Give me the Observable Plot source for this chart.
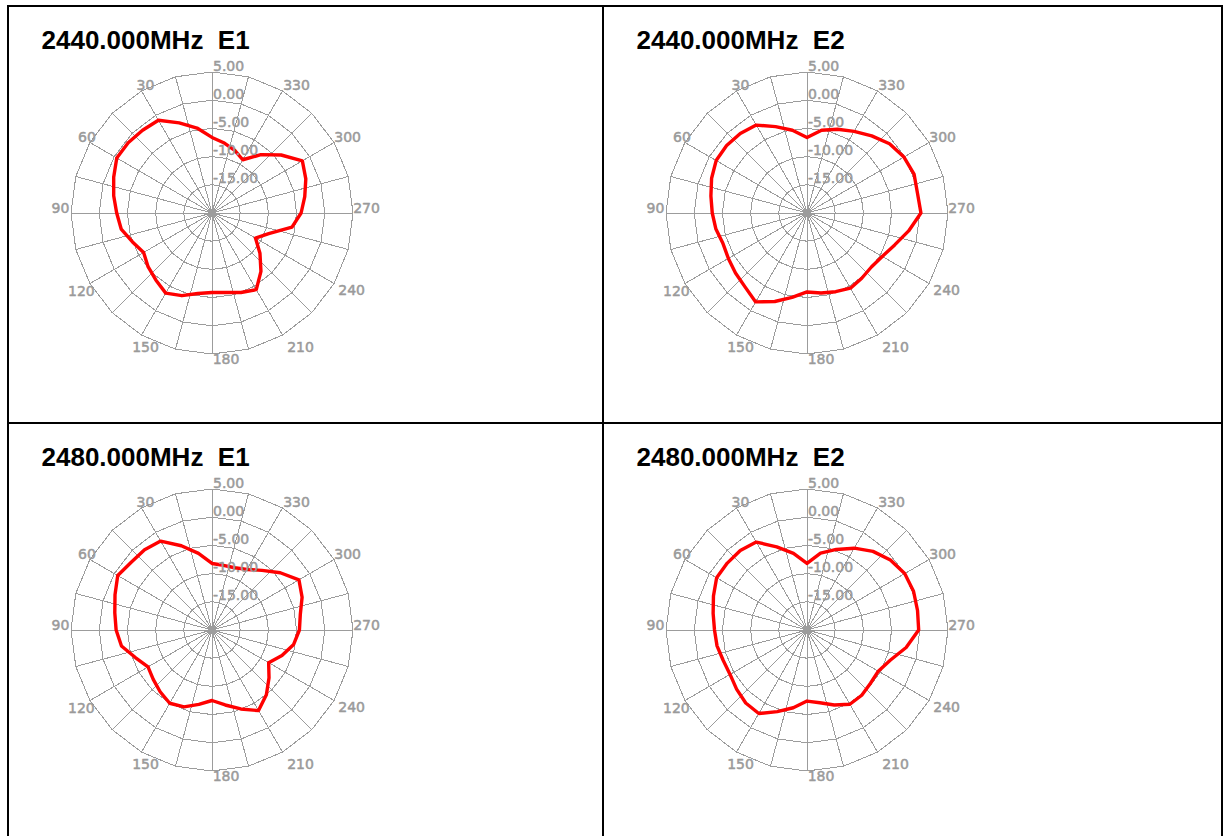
<!DOCTYPE html>
<html><head><meta charset="utf-8">
<script src="https://cdn.jsdelivr.net/npm/d3@7"></script>
<script src="https://cdn.jsdelivr.net/npm/@observablehq/plot@0.6"></script>
<style>
html,body{margin:0;padding:0;background:#fff;}
body{width:1229px;height:836px;overflow:hidden;position:relative;}
#frame{position:absolute;left:7px;top:5px;border-left:2px solid #000;border-top:2px solid #000;display:grid;grid-template-columns:595px 619px;grid-template-rows:417px 422px;}
.cell{position:relative;border-right:2px solid #000;border-bottom:2px solid #000;overflow:hidden;}
.title{position:absolute;left:32.5px;top:20px;font:bold 26px/26px "Liberation Sans",Arial,sans-serif;white-space:pre;color:#000;}
.cell svg{position:absolute;left:0;top:0;}
</style></head><body><div id="frame"></div>
<script>
// ---- data ----
const frequencies = ["2440.000MHz", "2440.000MHz", "2480.000MHz", "2480.000MHz"];
const ports = ["E1", "E2", "E1", "E2"];
const angles = [0,10,20,30,40,50,60,70,80,90,100,110,120,130,140,150,160,170,180,190,200,210,220,230,240,250,260,270,280,290,300,310,320,330,340,350];
const gain2440E1 = [-6.6,-4.7,-3.0,-1.0,-0.85,-0.6,-0.5,-1.45,-2.3,-3.1,-3.65,-5.0,-6.0,-5.2,-4.5,-3.6,-4.4,-5.5,-5.9,-5.7,-5.0,-4.3,-6.5,-8.9,-11.1,-9.3,-5.6,-4.2,-3.3,-2.3,-1.5,-4.0,-6.5,-9.1,-8.2,-7.4];
const gain2440E2 = [-6.6,-5.1,-3.7,-2.0,-1.6,-1.4,-1.4,-2.0,-2.7,-3.2,-3.6,-4.15,-3.9,-3.45,-2.9,-1.8,-3.3,-4.8,-6.0,-5.6,-5.15,-4.6,-4.9,-5.1,-4.6,-3.45,-1.7,0.2,-0.1,0.2,-0.15,-0.9,-2.15,-3.3,-4.2,-5.1];
const gain2480E1 = [-8.2,-6.2,-4.1,-1.8,-1.4,-1.3,-0.7,-1.7,-2.5,-3.0,-3.7,-5.6,-6.9,-6.4,-5.7,-5.0,-5.5,-6.6,-7.5,-6.5,-5.1,-3.5,-5.0,-6.8,-8.4,-6.8,-5.3,-4.5,-4.1,-3.0,-2.2,-4.2,-6.2,-7.6,-8.25,-8.35];
const gain2480E2 = [-8.2,-6.2,-4.3,-2.0,-1.6,-1.55,-1.5,-2.35,-3.1,-3.6,-3.8,-4.2,-4.25,-3.7,-3.1,-2.9,-4.6,-6.0,-7.4,-6.9,-5.85,-4.8,-4.9,-5.3,-5.4,-4.3,-2.15,-0.2,-0.1,0.1,0.0,-0.7,-1.8,-3.25,-4.8,-6.15];
const ringTicks = [5, 0, -5, -10, -15];
const angleTicks = [30, 60, 90, 120, 150, 180, 210, 240, 270, 300, 330];
const spokeAngles = [0,15,30,45,60,75,90,105,120,135,150,165,180,195,210,225,240,255,270,285,300,315,330,345];
const rMin = -20, rMax = 5;

// ---- drawing ----
const series = [gain2440E1, gain2440E2, gain2480E1, gain2480E2];
const RAD = Math.PI / 180;
const PX = 141;                 // outer ring radius in pixels
const U = rMax - rMin;          // radial span in data units
const cx = 202.5, cy = 205.5;   // centre of the dial inside each cell
const k = U / PX;               // data units per pixel
const px = (a, u) => -u * Math.sin(a * RAD);
const py = (a, u) => u * Math.cos(a * RAD);
// label nudges (pixels, screen space) relative to the outer ring point
const nudge = {30:[4,-5.5],60:[-3,-4.5],90:[-10.5,-4.5],120:[-8.5,8.5],150:[4,12],180:[14,6],210:[18,12],240:[17.5,7.5],270:[13.5,-4.5],300:[13.5,-4.5],330:[14,-5.5]};
const grey = "#9c9c9c";
const labelFont = {fill: "#9a9a9a", stroke: "#9a9a9a", strokeWidth: 0.5, fontSize: 14, fontFamily: "DejaVu Sans"};

const frame = document.getElementById("frame");
series.forEach((vals, i) => {
  const cell = document.createElement("div");
  cell.className = "cell";
  const title = document.createElement("div");
  title.className = "title";
  title.textContent = frequencies[i] + "  " + ports[i];

  const curve = angles.map((a, j) => ({a, u: vals[j] - rMin}));
  curve.push(curve[0]);
  const rings = ringTicks.flatMap(t => spokeAngles.concat([360]).map(a => ({ring: t, a, u: t - rMin})));
  const spokes = spokeAngles.map(a => ({a}));

  const svg = Plot.plot({
    width: 593, height: 415, margin: 0,
    x: {type: "linear", domain: [-U, U], range: [cx - PX, cx + PX], axis: null},
    y: {type: "linear", domain: [-U, U], range: [cy + PX, cy - PX], axis: null},
    style: {background: "transparent", overflow: "visible"},
    marks: [
      Plot.line(rings, {x: d => px(d.a, d.u), y: d => py(d.a, d.u), z: "ring", stroke: grey, strokeWidth: 1, shapeRendering: "crispEdges"}),
      Plot.link(spokes, {x1: () => 0, y1: () => 0, x2: d => px(d.a, U), y2: d => py(d.a, U), stroke: grey, strokeWidth: 1, shapeRendering: "crispEdges"}),
      Plot.line(curve, {x: d => px(d.a, d.u), y: d => py(d.a, d.u), stroke: "#ff0000", strokeWidth: 3.4, strokeLinejoin: "round"}),
      Plot.text(ringTicks, {x: () => 0, y: t => t - rMin, text: t => t.toFixed(2), textAnchor: "start", lineAnchor: "bottom", dx: 1, dy: -1.5, ...labelFont}),
      Plot.text(angleTicks, {
        x: a => px(a, U) + nudge[a][0] * k,
        y: a => py(a, U) - nudge[a][1] * k,
        text: a => String(a), textAnchor: "middle", lineAnchor: "middle", ...labelFont})
    ]
  });
  cell.appendChild(svg);
  cell.appendChild(title);
  frame.appendChild(cell);
});
</script>
</body></html>
